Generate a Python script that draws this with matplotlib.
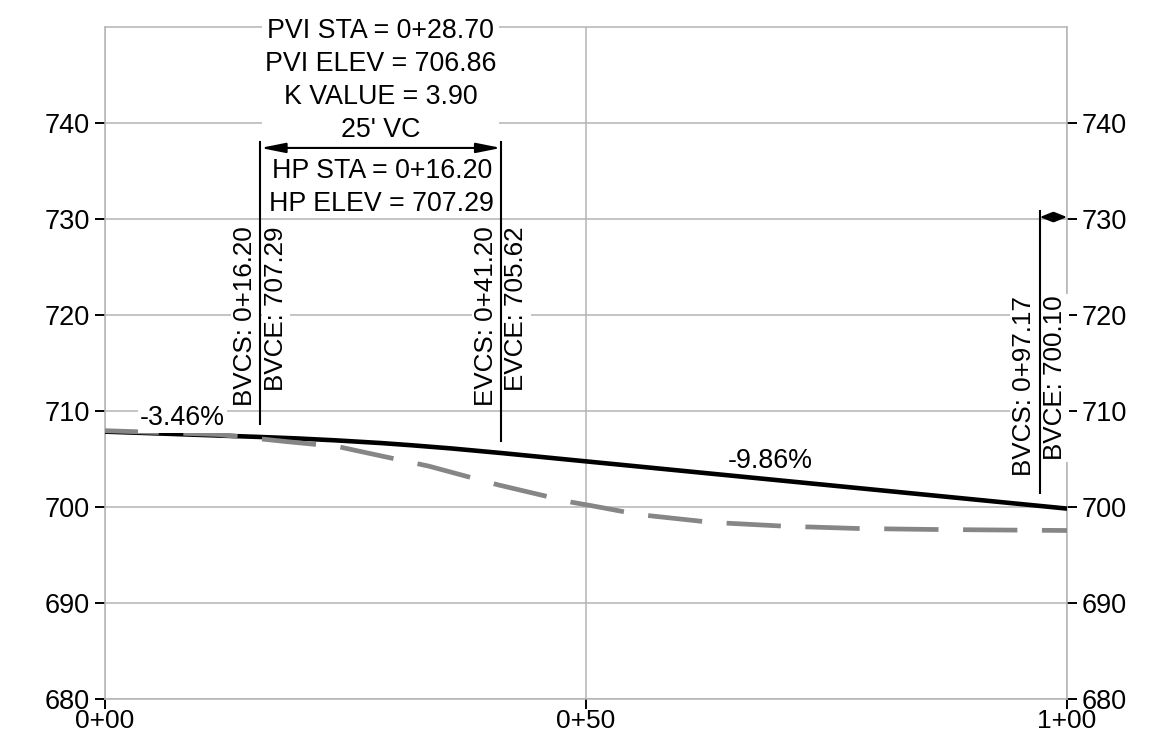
import matplotlib
matplotlib.use("Agg")
import matplotlib.pyplot as plt

plt.rcParams['font.family'] = ['Liberation Sans', 'DejaVu Sans']

# proposed profile (solid) - stations / elevations
prop_sta = [0, 16.2, 20, 24, 28.7, 32, 36, 41.2, 100]
prop_elev = [707.85, 707.29, 707.14, 706.94, 706.66, 706.42, 706.10, 705.62, 699.83]

# existing ground (dashed)
exist_sta = [0, 11.8, 19.0, 24.2, 26.5, 33.7, 40.9, 48.5, 50.5, 55.6, 63.0, 70.6, 78.2, 85.7, 93.2, 100]
exist_elev = [707.95, 707.55, 706.8, 706.3, 705.8, 704.25, 702.3, 700.5, 700.15, 699.2, 698.4, 698.0, 697.76, 697.66, 697.6, 697.55]

xticks = [0, 50, 100]
xtick_labels = ['0+00', '0+50', '1+00']
yticks = [680, 690, 700, 710, 720, 730, 740]

# vertical curve
pvi_sta, pvi_elev, k_value, vc_len = 28.70, 706.86, 3.90, 25
bvc_sta, bvc_elev = 16.20, 707.29
evc_sta, evc_elev = 41.20, 705.62
hp_sta, hp_elev = 16.20, 707.29
grades = ['-3.46%', '-9.86%']
next_bvc_sta, next_bvc_elev = 97.17, 700.10

fig = plt.figure(figsize=(11.63, 7.37), dpi=100)
ax = fig.add_axes([0.0899, 0.0516, 0.8276, 0.9118])
ax.set_xlim(0, 100)
ax.set_ylim(680, 750)

ax.grid(True, color='#b4b4b4', lw=1.1)
ax.set_axisbelow(True)
for s in ax.spines.values():
    s.set_color('#b4b4b4')
    s.set_linewidth(1.1)

ax.set_xticks(xticks)
ax.set_xticklabels(xtick_labels)
ax.set_yticks(yticks)
ax.tick_params(axis='both', direction='out', length=7.5, width=1.4, color='black',
               labelsize=19.5)
ax.tick_params(axis='y', right=True, labelright=True, pad=3)
ax.tick_params(axis='x', pad=0, labelsize=19)

ax.plot(prop_sta, prop_elev, color='black', lw=3.3, zorder=3, solid_capstyle='butt')
ax.plot(exist_sta, exist_elev, color='#868686', lw=3.4, dashes=(11.5, 5.2), zorder=4)

fs = 19.3
fs_rot = 18.7
box = dict(facecolor='white', edgecolor='none', pad=1.5)

# VC lines and dimension arrow (drawn above the text boxes)
arrow_y = 737.4
ax.plot([bvc_sta, bvc_sta], [708.6, 738.0], color='black', lw=1.5, zorder=8)
ax.plot([evc_sta, evc_sta], [706.85, 738.0], color='black', lw=1.5, zorder=8)
ax.annotate('', xy=(evc_sta, arrow_y), xytext=(bvc_sta, arrow_y),
            arrowprops=dict(arrowstyle='<|-|>,head_length=1.0,head_width=0.2',
                            mutation_scale=15, color='black', lw=1.5,
                            shrinkA=0, shrinkB=0), zorder=9)

ax.text(pvi_sta, 737.9,
        f"PVI STA = 0+{pvi_sta:05.2f}\nPVI ELEV = {pvi_elev:.2f}\nK VALUE = {k_value:.2f}\n{vc_len}' VC",
        ha='center', va='bottom', fontsize=fs, linespacing=1.36,
        bbox=dict(facecolor='white', edgecolor='none', pad=2), zorder=7)
ax.text(pvi_sta + 0.1, 736.3, f"HP STA = 0+{hp_sta:05.2f}\nHP ELEV = {hp_elev:.2f}",
        ha='center', va='top', fontsize=fs, linespacing=1.33, zorder=7)

text_top = 729.2
ax.text(bvc_sta - 0.35, text_top, f"BVCS: 0+{bvc_sta:05.2f}", rotation=90, ha='right', va='top',
        fontsize=fs_rot, bbox=box, zorder=7)
ax.text(bvc_sta + 0.35, text_top, f"BVCE: {bvc_elev:.2f}", rotation=90, ha='left', va='top',
        fontsize=fs_rot, bbox=box, zorder=7)
ax.text(evc_sta - 0.35, text_top, f"EVCS: 0+{evc_sta:05.2f}", rotation=90, ha='right', va='top',
        fontsize=fs_rot, bbox=box, zorder=7)
ax.text(evc_sta + 0.35, text_top, f"EVCE: {evc_elev:.2f}", rotation=90, ha='left', va='top',
        fontsize=fs_rot, bbox=box, zorder=7)

# next vertical curve start at right edge
ax.plot([next_bvc_sta, next_bvc_sta], [701.5, 730.8], color='black', lw=1.5, zorder=8)
ax.annotate('', xy=(100, 730.2), xytext=(next_bvc_sta, 730.2),
            arrowprops=dict(arrowstyle='<|-|>,head_length=0.5,head_width=0.2',
                            mutation_scale=15, color='black', lw=1.5,
                            shrinkA=0, shrinkB=0), zorder=9, annotation_clip=False)
ax.text(next_bvc_sta - 0.35, 722.0, f"BVCS: 0+{next_bvc_sta:05.2f}", rotation=90, ha='right', va='top',
        fontsize=fs_rot, bbox=box, zorder=7)
ax.text(next_bvc_sta + 0.35, 722.0, f"BVCE: {next_bvc_elev:.2f}", rotation=90, ha='left', va='top',
        fontsize=fs_rot, bbox=box, zorder=7)

# grade labels
ax.text(8.1, 709.3, grades[0], ha='center', va='center', fontsize=fs, bbox=box, zorder=7)
ax.text(69.2, 704.8, grades[1], ha='center', va='center', fontsize=fs, zorder=7)

fig.savefig('out.png', dpi=100)
